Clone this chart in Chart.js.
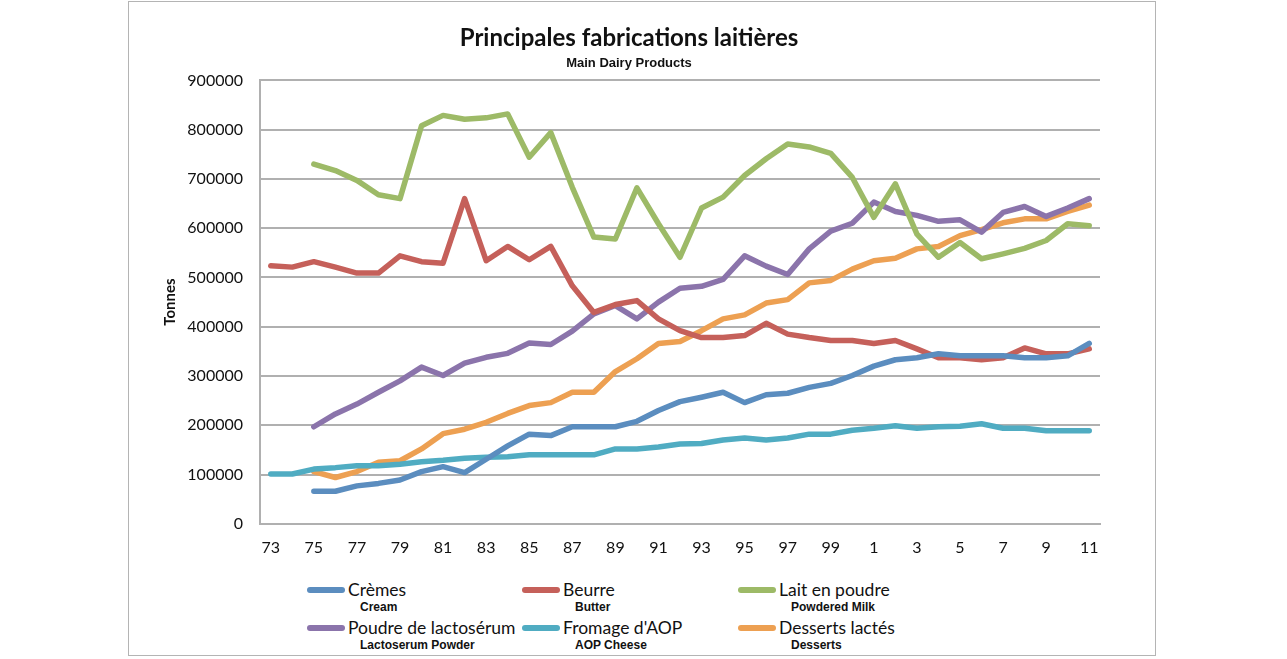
<!DOCTYPE html>
<html>
<head>
<meta charset="utf-8">
<script src="https://cdn.jsdelivr.net/npm/chart.js@4.4.1/dist/chart.umd.min.js"></script>
<style>
  body { margin: 0; background: #fff; }
  .frame {
    position: absolute; left: 128px; top: 1px; width: 1028px; height: 655px;
    border: 1px solid #b4b4b4; box-sizing: border-box;
  }
  #chartBox { position: absolute; left: 128px; top: 0; width: 1004px; height: 575px; }
  .legend { position: absolute; left: 0; top: 0; font-family: Lato, sans-serif; }
  .item { position: absolute; height: 36px; }
  .swatch { position: absolute; left: 0; top: 7px; width: 38px; height: 6px; border-radius: 3px; }
  .fr { position: absolute; left: 41px; top: 0; font-size: 17.5px; white-space: nowrap; line-height: 20px; color: #111; }
  .en { position: absolute; left: 53px; top: 20px; font-family: "Liberation Sans", Arial, sans-serif;
        font-weight: bold; font-size: 12px; white-space: nowrap; color: #111; }
</style>
</head>
<body>
<div class="frame"></div>
<div id="chartBox"><canvas id="chart"></canvas></div>
<div class="legend" id="legend"></div>
<script>
// years 1973 .. 2011
const years = ["73","74","75","76","77","78","79","80","81","82","83","84","85","86","87","88","89","90",
  "91","92","93","94","95","96","97","98","99","0","1","2","3","4","5","6","7","8","9","10","11"];

const cremes = [null, null, 66000, 66000, 77000, 82000, 89000, 106000, 116000, 104000, 131000, 158000,
  182000, 179000, 197000, 197000, 197000, 208000, 230000, 248000, 257000, 267000, 246000, 262000,
  265000, 277000, 285000, 301000, 320000, 333000, 337000, 345000, 341000, 341000, 341000, 337000,
  337000, 341000, 366000];

const beurre = [524000, 521000, 532000, 521000, 509000, 509000, 544000, 532000, 529000, 660000, 534000,
  563000, 536000, 563000, 483000, 429000, 445000, 453000, 416000, 392000, 378000, 378000, 382000,
  407000, 385000, 378000, 372000, 372000, 366000, 372000, 355000, 337000, 337000, 333000, 337000,
  357000, 345000, 345000, 355000];

const laitPoudre = [null, null, 730000, 717000, 697000, 668000, 660000, 808000, 829000, 821000, 824000,
  832000, 744000, 794000, 683000, 582000, 578000, 682000, 609000, 541000, 641000, 663000, 707000,
  741000, 771000, 765000, 752000, 703000, 622000, 690000, 588000, 541000, 571000, 538000, 548000,
  559000, 575000, 609000, 605000];

const lactoserum = [null, null, 197000, 223000, 243000, 267000, 290000, 318000, 301000, 326000, 338000,
  346000, 367000, 364000, 391000, 426000, 443000, 416000, 450000, 478000, 482000, 496000, 544000,
  523000, 506000, 558000, 594000, 610000, 653000, 634000, 626000, 614000, 617000, 592000, 632000,
  644000, 624000, 641000, 660000];

const fromageAOP = [101000, 101000, 111000, 114000, 118000, 118000, 121000, 126000, 129000, 133000,
  135000, 136000, 140000, 140000, 140000, 140000, 152000, 152000, 156000, 162000, 163000, 170000,
  174000, 170000, 174000, 182000, 182000, 190000, 194000, 199000, 194000, 197000, 198000, 203000,
  194000, 194000, 189000, 189000, 189000];

const desserts = [null, null, 106000, 94000, 106000, 125000, 128000, 152000, 183000, 192000, 206000,
  224000, 240000, 246000, 267000, 267000, 309000, 335000, 366000, 370000, 392000, 416000, 424000,
  448000, 455000, 489000, 494000, 517000, 534000, 539000, 558000, 563000, 585000, 597000, 611000,
  619000, 619000, 634000, 647000];

const seriesNames = ["Crèmes", "Beurre", "Lait en poudre", "Poudre de lactosérum", "Fromage d'AOP", "Desserts lactés"];
const seriesEnglish = ["Cream", "Butter", "Powdered Milk", "Lactoserum Powder", "AOP Cheese", "Desserts"];
const seriesColors = ["#5b8dbf", "#c5605a", "#9dba67", "#8b74ab", "#50acc2", "#eda052"];
const seriesValues = [cremes, beurre, laitPoudre, lactoserum, fromageAOP, desserts];

const yTicks = [0, 100000, 200000, 300000, 400000, 500000, 600000, 700000, 800000, 900000];

const ctx = document.getElementById("chart").getContext("2d");

new Chart(ctx, {
  type: "line",
  data: {
    labels: years,
    datasets: seriesValues.map((vals, i) => ({
      label: seriesNames[i],
      data: vals,
      borderColor: seriesColors[i],
      backgroundColor: seriesColors[i],
      borderWidth: 5.5,
      borderCapStyle: "round",
      borderJoinStyle: "round",
      pointRadius: 0,
      tension: 0,
      spanGaps: false,
    })),
  },
  options: {
    responsive: true,
    maintainAspectRatio: false,
    animation: false,
    layout: { padding: { left: 30, right: 32, top: 0, bottom: 4 } },
    scales: {
      x: {
        offset: true,
        grid: { display: false, drawTicks: false },
        border: { display: true, color: "#b0b0b0", width: 2 },
        ticks: {
          autoSkip: false,
          maxRotation: 0,
          padding: 14,
          color: "#111",
          font: { family: "Lato", size: 16 },
          callback: function (value, index) {
            return index % 2 === 0 ? years[index] : "";
          },
        },
      },
      y: {
        min: 0,
        max: 900000,
        afterBuildTicks: (scale) => {
          scale.ticks = yTicks.map((v) => ({ value: v }));
        },
        afterFit: (scale) => {
          scale.width = 102;
        },
        grid: { color: "#b0b0b0", lineWidth: 2, drawTicks: false },
        border: { display: true, color: "#b0b0b0", width: 2 },
        title: {
          display: true,
          text: "Tonnes",
          color: "#111",
          font: { family: "Lato", size: 15, weight: "bold" },
          padding: { top: 3, bottom: 6 },
        },
        ticks: {
          padding: 17,
          color: "#111",
          font: { family: "Lato", size: 16 },
          callback: (value) => String(value),
        },
      },
    },
    plugins: {
      legend: { display: false },
      tooltip: { enabled: false },
      title: {
        display: true,
        text: "Principales fabrications laitières",
        color: "#111",
        font: { family: "Lato", size: 24, weight: "bold" },
        padding: { top: 24, bottom: 0 },
      },
      subtitle: {
        display: true,
        text: "Main Dairy Products",
        color: "#111",
        font: { family: "Liberation Sans", size: 13, weight: "bold" },
        padding: { top: 3, bottom: 9 },
      },
    },
  },
});

// legend: French name with English name underneath, 3 columns x 2 rows
const legendEl = document.getElementById("legend");
const colX = [307, 522, 738];
const rowY = [580, 618];
seriesNames.forEach((name, i) => {
  const item = document.createElement("div");
  item.className = "item";
  item.style.left = colX[i % 3] + "px";
  item.style.top = rowY[Math.floor(i / 3)] + "px";
  item.innerHTML =
    '<div class="swatch" style="background:' + seriesColors[i] + '"></div>' +
    '<div class="fr">' + name + "</div>" +
    '<div class="en">' + seriesEnglish[i] + "</div>";
  legendEl.appendChild(item);
});
</script>
</body>
</html>
